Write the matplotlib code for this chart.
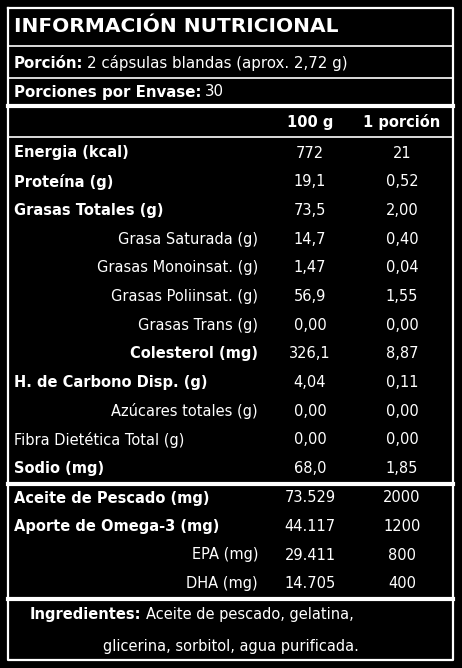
import matplotlib.pyplot as plt

plt.rcParams['font.family'] = ['DejaVu Sans']

labels = ["Energia (kcal)", "Proteína (g)", "Grasas Totales (g)", "Grasa Saturada (g)",
          "Grasas Monoinsat. (g)", "Grasas Poliinsat. (g)", "Grasas Trans (g)",
          "Colesterol (mg)", "H. de Carbono Disp. (g)", "Azúcares totales (g)",
          "Fibra Dietética Total (g)", "Sodio (mg)"]
per100 = ["772", "19,1", "73,5", "14,7", "1,47", "56,9", "0,00", "326,1", "4,04", "0,00", "0,00", "68,0"]
perPortion = ["21", "0,52", "2,00", "0,40", "0,04", "1,55", "0,00", "8,87", "0,11", "0,00", "0,00", "1,85"]
bold = [True, True, True, False, False, False, False, True, True, False, False, True]
indent = [False, False, False, True, True, True, True, True, False, True, False, False]

oil_labels = ["Aceite de Pescado (mg)", "Aporte de Omega-3 (mg)", "EPA (mg)", "DHA (mg)"]
oil_100 = ["73.529", "44.117", "29.411", "14.705"]
oil_portion = ["2000", "1200", "800", "400"]
oil_bold = [True, True, False, False]

fig = plt.figure(figsize=(4.62, 6.68), dpi=100, facecolor='black')
ax = fig.add_axes([0, 0, 1, 1])
ax.set_xlim(0, 462)
ax.set_ylim(668, 0)
ax.axis('off')
renderer = fig.canvas.get_renderer()

W = 'white'
fs = 10.5
ax.plot([8, 453, 453, 8, 8], [8, 8, 660, 660, 8], color=W, lw=1.6)
for y, lw in [(46, 1.2), (78, 1.2), (106, 3), (137, 1.2), (484, 3), (599, 3)]:
    ax.plot([8, 453], [y, y], color=W, lw=lw)


def pair(x, y, a, b, size=fs):
    t = ax.text(x, y, a, color=W, fontsize=size, fontweight='bold', va='center')
    bb = t.get_window_extent(renderer)
    x2 = ax.transData.inverted().transform((bb.x1, 0))[0] + 4
    ax.text(x2, y, b, color=W, fontsize=size, va='center')


ax.text(14, 27, "INFORMACIÓN NUTRICIONAL", color=W, fontsize=14.5, fontweight='bold', va='center')
pair(14, 63, "Porción:", "2 cápsulas blandas (aprox. 2,72 g)", 10.8)
pair(14, 92, "Porciones por Envase:", "30", 10.8)
ax.text(310, 122, "100 g", color=W, fontsize=fs, fontweight='bold', va='center', ha='center')
ax.text(402, 122, "1 porción", color=W, fontsize=fs, fontweight='bold', va='center', ha='center')

y0, dy = 153, 28.7
for i, lab in enumerate(labels):
    y = y0 + i * dy
    w = 'bold' if bold[i] else 'normal'
    if indent[i]:
        ax.text(258, y, lab, color=W, fontsize=fs, fontweight=w, va='center', ha='right')
    else:
        ax.text(14, y, lab, color=W, fontsize=fs, fontweight=w, va='center')
    ax.text(310, y, per100[i], color=W, fontsize=fs, va='center', ha='center')
    ax.text(402, y, perPortion[i], color=W, fontsize=fs, va='center', ha='center')

y0 = 498
for i, lab in enumerate(oil_labels):
    y = y0 + i * 28.5
    if oil_bold[i]:
        ax.text(14, y, lab, color=W, fontsize=fs, fontweight='bold', va='center')
    else:
        ax.text(258, y, lab, color=W, fontsize=fs, va='center', ha='right')
    ax.text(310, y, oil_100[i], color=W, fontsize=fs, va='center', ha='center')
    ax.text(402, y, oil_portion[i], color=W, fontsize=fs, va='center', ha='center')

pair(30, 615, "Ingredientes:", "Aceite de pescado, gelatina,", 10.5)
ax.text(231, 646, "glicerina, sorbitol, agua purificada.", color=W, fontsize=10.5, va='center', ha='center')

fig.savefig("out.png", dpi=100, facecolor='black')
